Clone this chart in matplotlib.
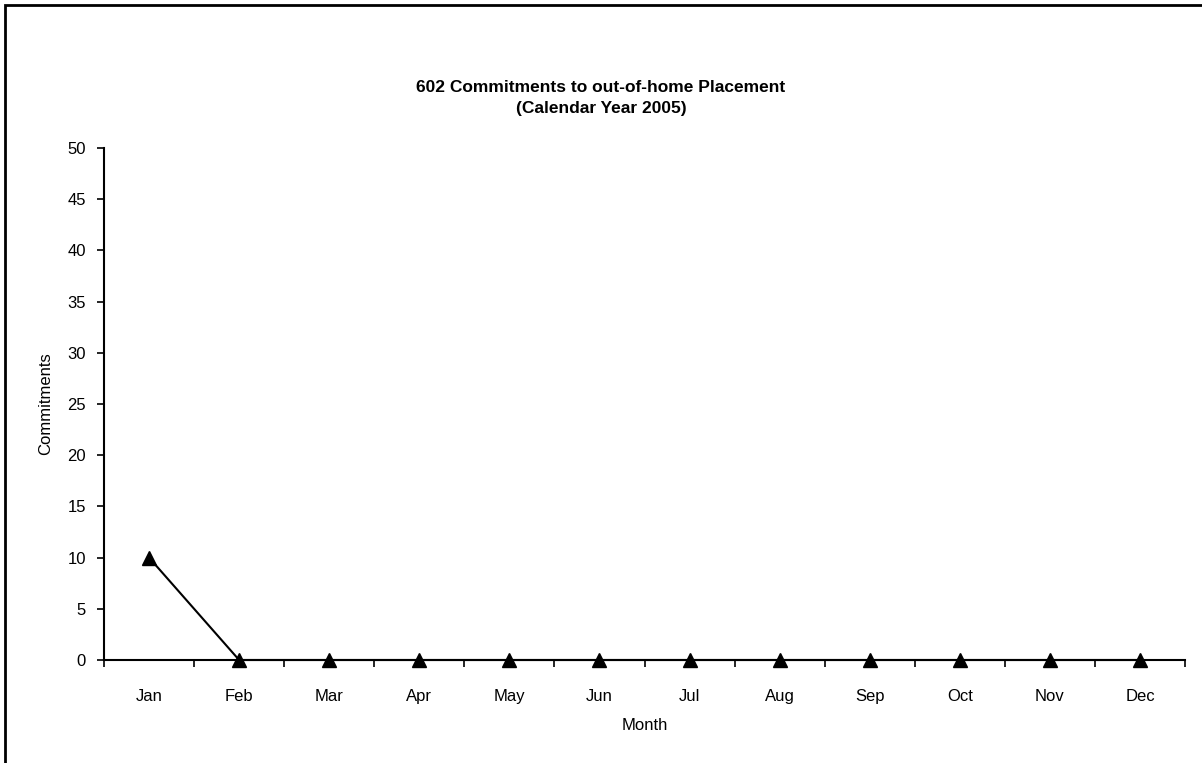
import matplotlib

matplotlib.use("Agg")

import matplotlib.pyplot as plt  # noqa: E402
from matplotlib.patches import Rectangle  # noqa: E402

plt.rcParams["font.family"] = ["Liberation Sans", "DejaVu Sans"]

months = ["Jan", "Feb", "Mar", "Apr", "May", "Jun",
          "Jul", "Aug", "Sep", "Oct", "Nov", "Dec"]
commitments = [10, 0, 0, 0, 0, 0, 0, 0, 0, 0, 0, 0]
y_ticks = [0, 5, 10, 15, 20, 25, 30, 35, 40, 45, 50]

fig = plt.figure(figsize=(12.02, 7.63), dpi=100)
ax = fig.add_axes([104 / 1202, 103 / 763, 1081 / 1202, 512 / 763])

x = list(range(1, len(months) + 1))
ax.plot(x, commitments, color="black", linewidth=1.5, marker="^",
        markersize=10, clip_on=False, zorder=3)

ax.set_xlim(0.5, len(months) + 0.5)
ax.set_ylim(0, 50)
ax.set_yticks(y_ticks)
ax.set_xticks(x)
ax.set_xticklabels(months)
ax.set_xticks([i + 0.5 for i in range(len(months) + 1)], minor=True)

ax.tick_params(axis="x", which="major", length=0, pad=21, labelsize=12)
ax.tick_params(axis="x", which="minor", length=5, width=1.2, direction="out")
ax.tick_params(axis="y", length=5, width=1.2, direction="out", pad=8,
               labelsize=12)

for side in ("top", "right"):
    ax.spines[side].set_visible(False)
for side in ("left", "bottom"):
    ax.spines[side].set_linewidth(1.5)

ax.set_xlabel("Month", fontsize=12, labelpad=10)
ax.set_ylabel("Commitments", fontsize=12, labelpad=10)

fig.text(0.5, 1 - 98 / 763, "602 Commitments to out-of-home Placement\n(Calendar Year 2005)",
         ha="center", va="center", fontsize=12.5, fontweight="bold",
         linespacing=1.45)

# chart frame: only the top and left edges fall inside the image
fig.patches.append(Rectangle((4.5 / 1202, -10 / 763), 1220 / 1202, 768 / 763,
                             transform=fig.transFigure, fill=False,
                             edgecolor="black", linewidth=2))

fig.savefig("out.png", dpi=100)
